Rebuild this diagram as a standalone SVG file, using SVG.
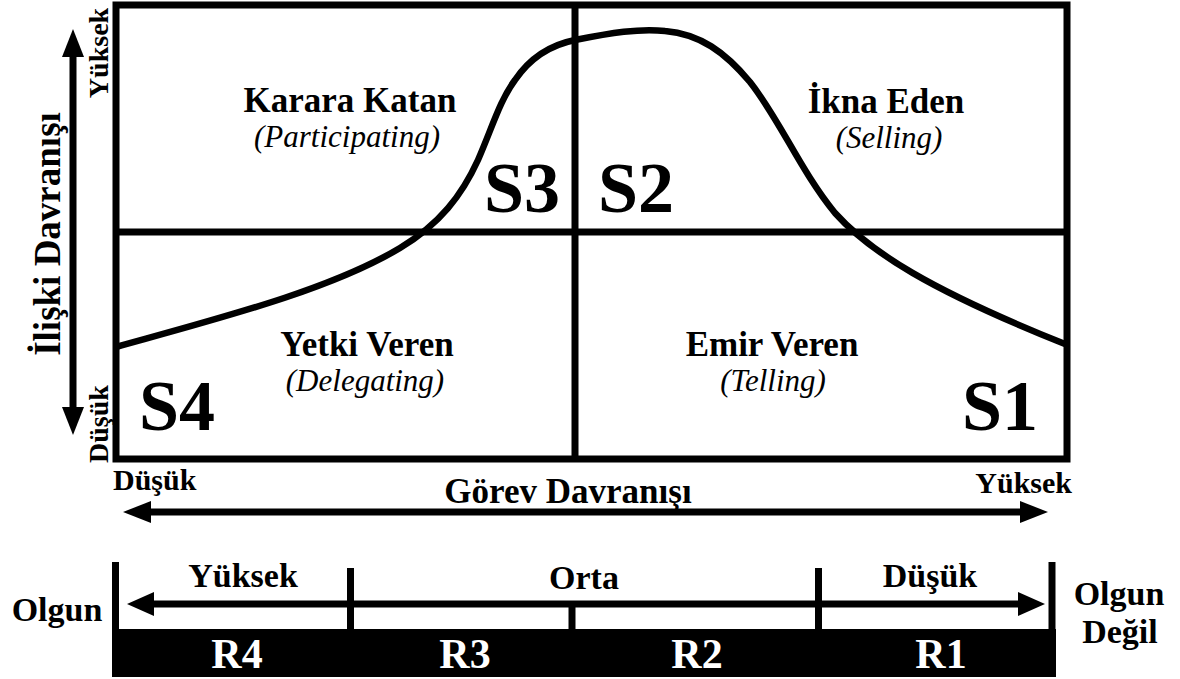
<svg xmlns="http://www.w3.org/2000/svg" width="1180" height="679" viewBox="0 0 1180 679">
<style>
  text { font-family: "Liberation Serif", "Times New Roman", serif; fill: #000; }
  .b { font-weight: bold; }
  .lbl { font-weight: bold; font-size: 35px; text-anchor: middle; }
  .sub { font-style: italic; font-size: 31px; text-anchor: middle; }
  .big { font-weight: bold; font-size: 72px; text-anchor: middle; }
  .ax { font-weight: bold; font-size: 30px; }
  .ax2 { font-weight: bold; font-size: 28px; text-anchor: middle; }
  .sc { font-weight: bold; font-size: 34px; text-anchor: middle; }
  .r { font-weight: bold; font-size: 42px; text-anchor: middle; fill: #fff; }
  .ln { fill: none; stroke: #000; stroke-width: 7; }
</style>
<defs>
  <marker id="ah" viewBox="0 0 28 22" refX="0" refY="11" markerWidth="28" markerHeight="22" markerUnits="userSpaceOnUse" orient="auto-start-reverse">
    <path d="M0,0 L28,11 L0,22 z" fill="#000"/>
  </marker>
  <marker id="ah2" viewBox="0 0 27 24" refX="0" refY="12" markerWidth="27" markerHeight="24" markerUnits="userSpaceOnUse" orient="auto-start-reverse">
    <path d="M0,0 L27,12 L0,24 z" fill="#000"/>
  </marker>
</defs>
<rect width="1180" height="679" fill="#fff"/>

<g id="grid">
  <rect class="ln" x="116" y="5" width="951" height="454"/>
  <line class="ln" x1="116" y1="232" x2="1067" y2="232"/>
  <line class="ln" x1="575" y1="5" x2="575" y2="459"/>
</g>

<g id="curve">
  <path d="M116,347 C220,318 330,290 400,248 C440,224 462,195 478,160 C492,128 500,100 515,80 C530,58 550,45 575,40 C610,33 640,28 665,31 C700,34 725,52 750,82 C780,120 800,170 835,213 C870,252 930,290 1065,344" fill="none" stroke="#000" stroke-width="6.5"/>
</g>

<g id="quad-s3">
  <text class="lbl" x="350" y="112">Karara Katan</text>
  <text class="sub" x="347" y="147">(Participating)</text>
  <text class="big" x="522" y="212">S3</text>
</g>
<g id="quad-s2">
  <text class="lbl" x="886" y="113">İkna Eden</text>
  <text class="sub" x="889" y="148">(Selling)</text>
  <text class="big" x="636" y="212">S2</text>
</g>
<g id="quad-s4">
  <text class="lbl" x="367" y="356">Yetki Veren</text>
  <text class="sub" x="365" y="391">(Delegating)</text>
  <text class="big" x="177" y="430">S4</text>
</g>
<g id="quad-s1">
  <text class="lbl" x="772" y="356">Emir Veren</text>
  <text class="sub" x="773" y="391">(Telling)</text>
  <text class="big" x="1000" y="430">S1</text>
</g>

<g id="y-axis">
  <text class="b" font-size="37" text-anchor="middle" transform="translate(60,234) rotate(-90)">İlişki Davranışı</text>
  <text class="ax2" transform="translate(108,53) rotate(-90)">Yüksek</text>
  <text class="ax2" transform="translate(108,424) rotate(-90)">Düşük</text>
</g>

<g id="x-axis">
  <text class="ax" x="113" y="490">Düşük</text>
  <text class="ax" x="1072" y="493" text-anchor="end">Yüksek</text>
  <text class="lbl" x="568" y="503">Görev Davranışı</text>
</g>

<g id="connectors">
  <line class="ln" x1="73" y1="57" x2="73" y2="407" marker-start="url(#ah)" marker-end="url(#ah)"/>
  <line class="ln" x1="151" y1="512" x2="1020" y2="512" marker-start="url(#ah)" marker-end="url(#ah)"/>
  <line class="ln" x1="154" y1="604" x2="1018" y2="604" marker-start="url(#ah2)" marker-end="url(#ah2)"/>
</g>

<g id="maturity-scale">
  <line class="ln" x1="115.5" y1="562" x2="115.5" y2="630"/>
  <line class="ln" x1="1052" y1="562" x2="1052" y2="630"/>
  <line class="ln" x1="350.5" y1="568" x2="350.5" y2="630"/>
  <line class="ln" x1="572" y1="604" x2="572" y2="630"/>
  <line class="ln" x1="818.5" y1="568" x2="818.5" y2="630"/>
  <rect x="112" y="629" width="944" height="48" fill="#000"/>
  <text class="sc" x="243" y="587">Yüksek</text>
  <text class="sc" x="584" y="589">Orta</text>
  <text class="sc" x="930" y="587">Düşük</text>
  <text class="sc" x="57" y="621">Olgun</text>
  <text class="sc" x="1119" y="605">Olgun</text>
  <text class="sc" x="1120" y="643">Değil</text>
  <text class="r" x="237" y="668">R4</text>
  <text class="r" x="465" y="668">R3</text>
  <text class="r" x="697" y="668">R2</text>
  <text class="r" x="941" y="668">R1</text>
</g>
</svg>
